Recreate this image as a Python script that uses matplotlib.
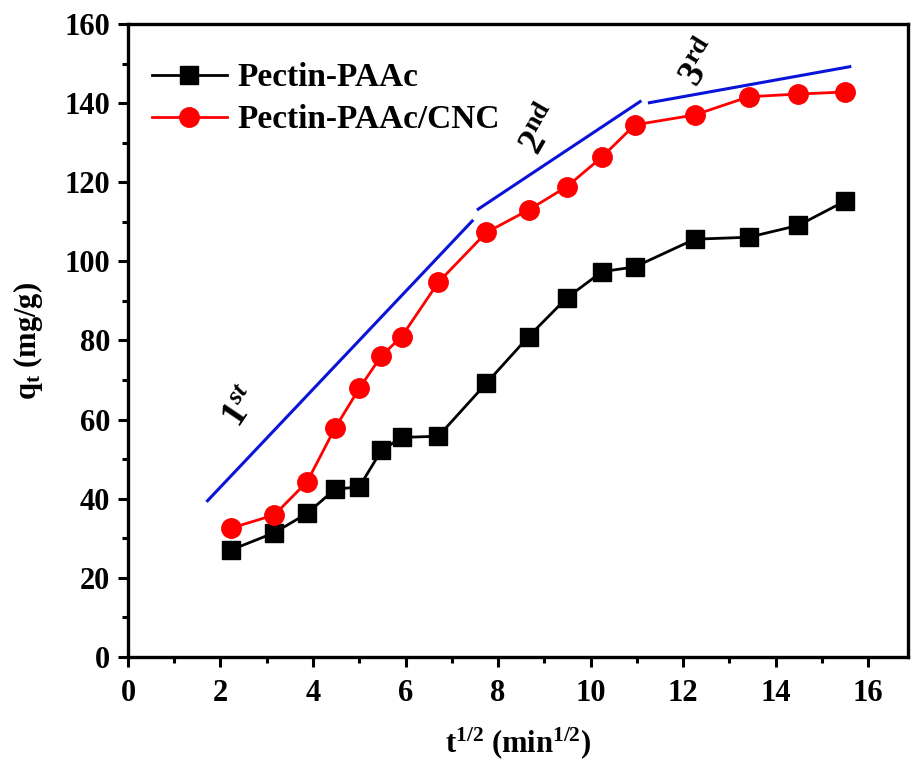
import numpy as np
import matplotlib
matplotlib.use("Agg")
from matplotlib import pyplot as plt
from matplotlib.ticker import MultipleLocator

plt.rcParams["font.family"] = ["Liberation Serif", "DejaVu Serif"]
plt.rcParams["font.weight"] = "bold"
plt.rcParams["axes.labelweight"] = "bold"
plt.rcParams["mathtext.fontset"] = "custom"
plt.rcParams["mathtext.rm"] = "Liberation Serif:bold"
plt.rcParams["mathtext.bf"] = "Liberation Serif:bold"
plt.rcParams["mathtext.it"] = "Liberation Serif:italic:bold"

# t^(1/2) values (min^1/2)
t_sqrt = [2.236, 3.162, 3.873, 4.472, 5.0, 5.477, 5.916, 6.708, 7.746,
          8.660, 9.487, 10.247, 10.954, 12.247, 13.416, 14.491, 15.492]
q_paac = [27.1, 31.4, 36.3, 42.4, 43.0, 52.2, 55.5, 55.8, 69.2,
          81.0, 90.8, 97.4, 98.6, 105.6, 106.1, 109.1, 115.2]
q_cnc = [32.6, 35.9, 44.3, 57.8, 67.9, 76.1, 81.0, 94.7, 107.3,
         113.0, 118.9, 126.4, 134.5, 137.0, 141.6, 142.3, 142.8]

# diffusion stage fit lines (x0, y0, x1, y1)
stage_lines = [(1.72, 39.5, 7.44, 110.2),
               (7.57, 113.2, 11.07, 140.4),
               (11.27, 140.1, 15.6, 149.2)]
stage_labels = [r"$\mathrm{1}^{\mathit{st}}$", r"$\mathrm{2}^{\mathrm{nd}}$", r"$\mathrm{3}^{\mathrm{rd}}$"]
stage_pos = [(2.45, 63.0, 56), (8.95, 133.0, 60), (12.4, 150.0, 58)]

fig = plt.figure(figsize=(9.14, 7.66), dpi=100)
ax = fig.add_axes([0.140, 0.1423, 0.853, 0.8264])

ax.plot(t_sqrt, q_paac, color="black", lw=2, marker="s", ms=13, label="Pectin-PAAc")
ax.plot(t_sqrt, q_cnc, color="red", lw=2, marker="o", ms=14, label="Pectin-PAAc/CNC")

for x0, y0, x1, y1 in stage_lines:
    ax.plot([x0, x1], [y0, y1], color="#0a14d8", lw=2.2)
for lab, (x, y, rot) in zip(stage_labels, stage_pos):
    ax.text(x, y, lab, fontsize=27, rotation=rot, ha="center", va="center")

ax.set_xlim(0, 16.85)
ax.set_ylim(0, 160)
ax.xaxis.set_major_locator(MultipleLocator(2))
ax.xaxis.set_minor_locator(MultipleLocator(1))
ax.yaxis.set_major_locator(MultipleLocator(20))
ax.yaxis.set_minor_locator(MultipleLocator(10))
ax.tick_params(which="major", direction="out", length=7, width=2.2, labelsize=22, pad=6)
ax.tick_params(axis="x", which="major", pad=9)
ax.tick_params(which="minor", direction="out", length=4, width=2.2)
for s in ax.spines.values():
    s.set_linewidth(2.4)

ax.set_xlabel(r"t$^{\mathrm{1/2}}$ (min$^{\mathrm{1/2}}$)", fontsize=22, fontweight="bold", labelpad=12)
ax.set_ylabel(r"q$_{\mathrm{t}}$ (mg/g)", fontsize=22, fontweight="bold", labelpad=14)

leg = ax.legend(loc="upper left", bbox_to_anchor=(-0.012, 0.992), frameon=False,
                fontsize=24, handlelength=2.25, handletextpad=0.3,
                labelspacing=0.33, borderaxespad=0.6)

fig.savefig("out.png", dpi=100)
